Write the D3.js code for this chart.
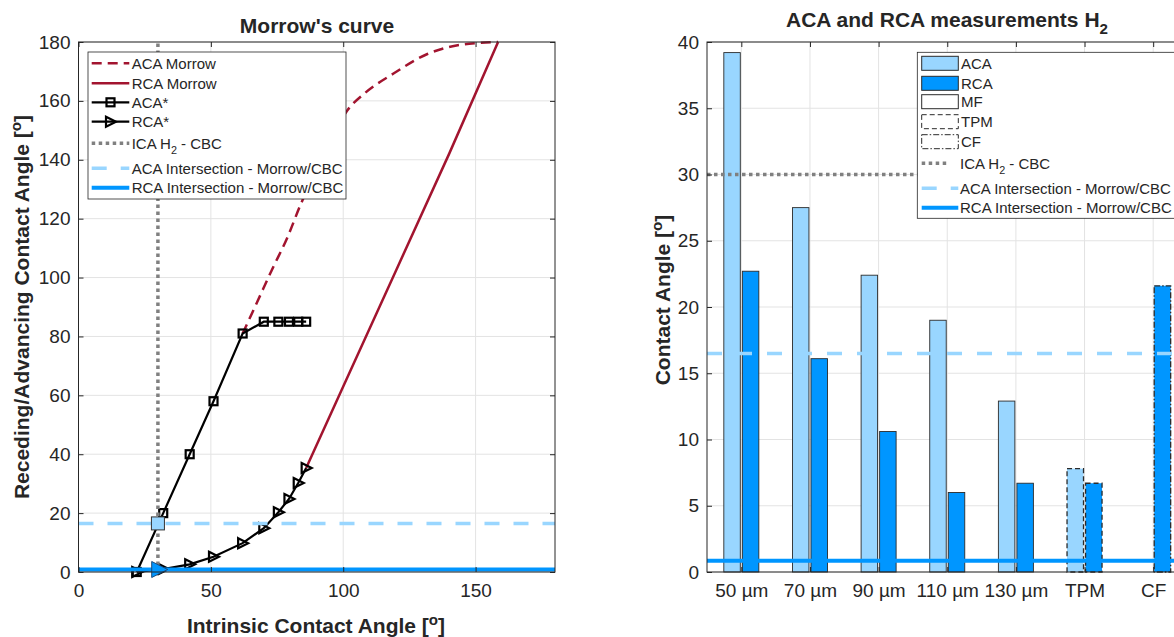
<!DOCTYPE html>
<html lang="en">
<head>
<meta charset="utf-8">
<title>Morrow's curve / ACA and RCA measurements</title>
<script src="https://cdn.jsdelivr.net/npm/d3@7"></script>
<style>
body { margin: 0; background: #fff; }
text { font-family: "Liberation Sans", Arial, Helvetica, sans-serif; fill: #262626; }
.tick text { font-size: 19px; }
</style>
</head>
<body>
<script>
// ---- left plot: Morrow's curve ----
var icaX     = [22, 32, 42, 51, 62, 70, 75.5, 79.5, 83, 86];
var acaStar  = [0, 20, 40, 58, 81, 85, 85, 85, 85, 85];
var rcaStar  = [0, 1, 2.6, 5.2, 9.8, 14.9, 20.3, 24.8, 30.2, 35.3];
var acaMorrowX = [62, 67.5, 73, 79, 84, 92, 101.6, 108, 119, 132, 140, 150, 158.5];
var acaMorrowY = [81, 91.7, 102.5, 113.8, 125, 140, 156.8, 162.5, 169.3, 176, 178.3, 179.6, 180];
var rcaMorrowX = [86, 100, 120, 140, 158.5];
var rcaMorrowY = [35.3, 63, 102.5, 142, 180];
var icaH2 = 30;
var acaIntersect = 16.5;
var rcaIntersect = 0.85;
var xTicksL = [0, 50, 100, 150];
var yTicksL = [0, 20, 40, 60, 80, 100, 120, 140, 160, 180];

// ---- right plot: bars ----
var categories = ["50 µm", "70 µm", "90 µm", "110 µm", "130 µm", "TPM", "CF"];
var acaVals = [39.2, 27.5, 22.4, 19.0, 12.9, 7.8, 0];
var rcaVals = [22.7, 16.1, 10.6, 6.0, 6.7, 6.7, 21.6];
var fiber   = ["MF", "MF", "MF", "MF", "MF", "TPM", "CF"];
var yTicksR = [0, 5, 10, 15, 20, 25, 30, 35, 40];

var cRed = "#A2142F", cLight = "#99D6FF", cBlue = "#0096FF", cGray = "#808080";
var axisCol = "#262626", gridCol = "#e3e3e3";
var dashOf = { MF: null, TPM: "5,3", CF: "6,2,1.5,2" };

var svg = d3.select("body").append("svg").attr("width", 1174).attr("height", 637);

var xL = d3.scaleLinear().domain([0, 180]).range([78.5, 555]);
var yL = d3.scaleLinear().domain([0, 180]).range([572, 42]);
var xR = d3.scaleLinear().domain([0.5, 7.5]).range([707, 1187.5]);
var yR = d3.scaleLinear().domain([0, 40]).range([572, 42]);

function supText(sel, parts) {
    // parts: [text, "sup"|"sub"|null, dy]
    parts.forEach(function(p) {
        var t = sel.append("tspan").text(p[0]);
        if (p[1] == "sup") t.attr("dy", "-0.55em").style("font-size", "0.72em");
        if (p[1] == "sub") t.attr("dy", "0.45em").style("font-size", "0.72em");
        if (p[2]) t.attr("dy", p[2]);
    });
}

function drawGrid(g, x, y, xt, yt) {
    var x0 = x.range()[0], x1 = x.range()[1], y0 = y.range()[0], y1 = y.range()[1];
    g.append("g").selectAll("line").data(xt).enter().append("line")
        .attr("x1", function(d) { return x(d); }).attr("x2", function(d) { return x(d); })
        .attr("y1", y0).attr("y2", y1).attr("stroke", gridCol);
    g.append("g").selectAll("line").data(yt).enter().append("line")
        .attr("y1", function(d) { return y(d); }).attr("y2", function(d) { return y(d); })
        .attr("x1", x0).attr("x2", x1).attr("stroke", gridCol);
}

function drawFrame(g, x, y, xt, yt, xfmt) {
    var x0 = x.range()[0], x1 = x.range()[1], y0 = y.range()[0], y1 = y.range()[1];
    g.append("g").attr("transform", "translate(0," + y0 + ")")
        .call(d3.axisBottom(x).tickValues(xt).tickSizeInner(-5).tickSizeOuter(0).tickPadding(12).tickFormat(xfmt));
    g.append("g").attr("transform", "translate(" + x0 + ",0)")
        .call(d3.axisLeft(y).tickValues(yt).tickSizeInner(-5).tickSizeOuter(0).tickPadding(8));
    g.append("g").attr("transform", "translate(0," + y1 + ")")
        .call(d3.axisTop(x).tickValues(xt).tickSizeInner(-5).tickSizeOuter(0).tickFormat(""));
    g.append("g").attr("transform", "translate(" + x1 + ",0)")
        .call(d3.axisRight(y).tickValues(yt).tickSizeInner(-5).tickSizeOuter(0).tickFormat(""));
    g.selectAll(".domain").remove();
    g.selectAll(".tick line").attr("stroke", axisCol);
    g.selectAll(".tick text").attr("fill", axisCol);
    g.append("rect").attr("x", x0).attr("y", y1).attr("width", x1 - x0).attr("height", y0 - y1)
        .attr("fill", "none").attr("stroke", axisCol).attr("stroke-width", 1);
}

function tri(cx, cy, s) {
    return "M" + (cx - s * 0.45) + "," + (cy - s * 0.5) + "L" + (cx + s * 0.55) + "," + cy +
           "L" + (cx - s * 0.45) + "," + (cy + s * 0.5) + "Z";
}

// ================= LEFT =================
var gL = svg.append("g");
drawGrid(gL, xL, yL, xTicksL, yTicksL);

var line = d3.line().x(function(d) { return xL(d[0]); }).y(function(d) { return yL(d[1]); });
var lineSmooth = d3.line().curve(d3.curveMonotoneX).x(function(d) { return xL(d[0]); }).y(function(d) { return yL(d[1]); });

gL.append("path").datum(d3.zip(acaMorrowX, acaMorrowY)).attr("d", lineSmooth)
    .attr("fill", "none").attr("stroke", cRed).attr("stroke-width", 2.5).attr("stroke-dasharray", "10,6");
gL.append("path").datum(d3.zip(rcaMorrowX, rcaMorrowY)).attr("d", line)
    .attr("fill", "none").attr("stroke", cRed).attr("stroke-width", 2.5);

gL.append("path").datum(d3.zip(icaX, acaStar)).attr("d", line)
    .attr("fill", "none").attr("stroke", "#000").attr("stroke-width", 2.2);
gL.selectAll("rect.aca").data(d3.zip(icaX, acaStar)).enter().append("rect").attr("class", "aca")
    .attr("x", function(d) { return xL(d[0]) - 4; }).attr("y", function(d) { return yL(d[1]) - 4; })
    .attr("width", 8).attr("height", 8).attr("fill", "none").attr("stroke", "#000").attr("stroke-width", 2.2);
gL.append("path").datum(d3.zip(icaX, rcaStar)).attr("d", line)
    .attr("fill", "none").attr("stroke", "#000").attr("stroke-width", 2.2);
gL.selectAll("path.rca").data(d3.zip(icaX, rcaStar)).enter().append("path").attr("class", "rca")
    .attr("d", function(d) { return tri(xL(d[0]), yL(d[1]), 10); })
    .attr("fill", "none").attr("stroke", "#000").attr("stroke-width", 2.2);

gL.append("line").attr("x1", xL(icaH2)).attr("x2", xL(icaH2)).attr("y1", yL(0)).attr("y2", yL(180))
    .attr("stroke", cGray).attr("stroke-width", 3.5).attr("stroke-dasharray", "3.5,3.5");
gL.append("line").attr("x1", xL(0)).attr("x2", xL(180)).attr("y1", yL(acaIntersect)).attr("y2", yL(acaIntersect))
    .attr("stroke", cLight).attr("stroke-width", 3.5).attr("stroke-dasharray", "15,14");
gL.append("line").attr("x1", xL(0)).attr("x2", xL(180)).attr("y1", yL(rcaIntersect)).attr("y2", yL(rcaIntersect))
    .attr("stroke", cBlue).attr("stroke-width", 4);
gL.append("rect").attr("x", xL(icaH2) - 6.5).attr("y", yL(acaIntersect) - 6.5).attr("width", 13).attr("height", 13)
    .attr("fill", cLight).attr("stroke", "#333").attr("stroke-width", 1);
gL.append("path").attr("d", tri(xL(icaH2) + 1, yL(rcaIntersect), 16))
    .attr("fill", cBlue).attr("stroke", "#1a4a7a").attr("stroke-width", 1);

drawFrame(gL, xL, yL, xTicksL, yTicksL, d3.format("d"));

// legend left
var lgL = gL.append("g");
lgL.append("rect").attr("x", 88).attr("y", 52).attr("width", 258).attr("height", 147)
    .attr("fill", "#fff").attr("stroke", axisCol).attr("stroke-width", 0.8);
var rowsL = [63.3, 83.3, 102.3, 121.7, 143.3, 168.3, 187.7];
var sx0 = 91.7, sx1 = 129.3, tx = 131.7;
function sample(g, y, col, w, dash, x0, x1) {
    g.append("line").attr("x1", x0).attr("x2", x1).attr("y1", y).attr("y2", y)
        .attr("stroke", col).attr("stroke-width", w).attr("stroke-dasharray", dash);
}
sample(lgL, rowsL[0], cRed, 2.5, "10,6", sx0, sx1);
sample(lgL, rowsL[1], cRed, 2.5, null, sx0, sx1);
sample(lgL, rowsL[2], "#000", 2.2, null, sx0, sx1);
lgL.append("rect").attr("x", (sx0 + sx1) / 2 - 4).attr("y", rowsL[2] - 4).attr("width", 8).attr("height", 8)
    .attr("fill", "none").attr("stroke", "#000").attr("stroke-width", 2.2);
sample(lgL, rowsL[3], "#000", 2.2, null, sx0, sx1);
lgL.append("path").attr("d", tri((sx0 + sx1) / 2, rowsL[3], 10)).attr("fill", "none").attr("stroke", "#000").attr("stroke-width", 2.2);
sample(lgL, rowsL[4], cGray, 3.5, "3.5,3.5", sx0, sx1);
sample(lgL, rowsL[5], cLight, 3.5, "15,14", sx0, sx1);
sample(lgL, rowsL[6], cBlue, 4, null, sx0, sx1);

function legendTexts(g, rows, x, labels) {
    labels.forEach(function(lab, i) {
        var t = g.append("text").attr("x", x).attr("y", rows[i] + 5.5).style("font-size", "15px");
        if (typeof lab == "string") t.text(lab); else supText(t, lab);
    });
}
var icaLabel = [["ICA H", null], ["2", "sub"], [" - CBC", null, "-0.3em"]];
legendTexts(lgL, rowsL, tx, ["ACA Morrow", "RCA Morrow", "ACA*", "RCA*", icaLabel,
    "ACA Intersection - Morrow/CBC", "RCA Intersection - Morrow/CBC"]);

// titles and labels left
gL.append("text").attr("x", 317).attr("y", 33).attr("text-anchor", "middle")
    .style("font-size", "21px").style("font-weight", "bold").attr("fill", "#000").text("Morrow's curve");
var xlab = gL.append("text").attr("x", 316).attr("y", 633).attr("text-anchor", "middle")
    .style("font-size", "21px").style("font-weight", "bold");
supText(xlab, [["Intrinsic Contact Angle [", null], ["o", "sup"], ["]", null, "0.4em"]]);
var ylab = gL.append("text").attr("transform", "translate(29,307) rotate(-90)").attr("text-anchor", "middle")
    .style("font-size", "21px").style("font-weight", "bold");
supText(ylab, [["Receding/Advancing Contact Angle [", null], ["o", "sup"], ["]", null, "0.4em"]]);

// ================= RIGHT =================
var gR = svg.append("g");
var idx = d3.range(1, categories.length + 1);
drawGrid(gR, xR, yR, idx, yTicksR);

var bw = 0.24, off = 0.135;
function bars(vals, shift, fill) {
    gR.append("g").selectAll("rect").data(vals).enter().append("rect")
        .attr("x", function(d, i) { return xR(i + 1 + shift - bw / 2); })
        .attr("width", xR(1 + bw) - xR(1))
        .attr("y", function(d) { return yR(d); })
        .attr("height", function(d) { return yR(0) - yR(d); })
        .attr("fill", fill).attr("stroke", "#2b2b2b").attr("stroke-width", function(d, i) { return fiber[i] == "MF" ? 0.9 : 1.3; })
        .attr("stroke-dasharray", function(d, i) { return dashOf[fiber[i]]; });
}
bars(acaVals, -off, cLight);
bars(rcaVals, off, cBlue);

gR.append("line").attr("x1", xR(0.5)).attr("x2", xR(7.5)).attr("y1", yR(icaH2)).attr("y2", yR(icaH2))
    .attr("stroke", cGray).attr("stroke-width", 3.5).attr("stroke-dasharray", "3.5,3.5");
gR.append("line").attr("x1", xR(0.5)).attr("x2", xR(7.5)).attr("y1", yR(acaIntersect)).attr("y2", yR(acaIntersect))
    .attr("stroke", cLight).attr("stroke-width", 3.5).attr("stroke-dasharray", "15,15");
gR.append("line").attr("x1", xR(0.5)).attr("x2", xR(7.5)).attr("y1", yR(rcaIntersect)).attr("y2", yR(rcaIntersect))
    .attr("stroke", cBlue).attr("stroke-width", 4);

drawFrame(gR, xR, yR, idx, yTicksR, function(d) { return categories[d - 1]; });

// legend right
var lgR = gR.append("g");
lgR.append("rect").attr("x", 917.3).attr("y", 52.3).attr("width", 260).attr("height", 166)
    .attr("fill", "#fff").attr("stroke", axisCol).attr("stroke-width", 0.8);
var rowsR = [63.3, 83.3, 101.7, 121.7, 141.7, 163.3, 188.3, 207.7];
var px0 = 921.7, px1 = 958.3, txR = 960;
var patches = [[cLight, null], [cBlue, null], ["#fff", null], ["#fff", "5,3"], ["#fff", "6,2,1.5,2"]];
patches.forEach(function(p, i) {
    lgR.append("rect").attr("x", px0).attr("y", rowsR[i] - 7).attr("width", px1 - px0).attr("height", 14)
        .attr("fill", p[0]).attr("stroke", "#2b2b2b").attr("stroke-width", 1).attr("stroke-dasharray", p[1]);
});
sample(lgR, rowsR[5], cGray, 3.5, "3.5,3.5", px0, px1 - 12);
sample(lgR, rowsR[6], cLight, 3.5, "15,14", px0, px1);
sample(lgR, rowsR[7], cBlue, 4, null, px0, px1);
legendTexts(lgR, rowsR.slice(0, 5), txR + 1, ["ACA", "RCA", "MF", "TPM", "CF"]);
legendTexts(lgR, rowsR.slice(5), txR, [icaLabel, "ACA Intersection - Morrow/CBC", "RCA Intersection - Morrow/CBC"]);

var tR = gR.append("text").attr("x", 947).attr("y", 27).attr("text-anchor", "middle")
    .style("font-size", "21px").style("font-weight", "bold").attr("fill", "#000");
supText(tR, [["ACA and RCA measurements H", null], ["2", "sub"]]);
var ylabR = gR.append("text").attr("transform", "translate(670,300) rotate(-90)").attr("text-anchor", "middle")
    .style("font-size", "21px").style("font-weight", "bold");
supText(ylabR, [["Contact Angle [", null], ["o", "sup"], ["]", null, "0.4em"]]);
</script>
</body>
</html>
